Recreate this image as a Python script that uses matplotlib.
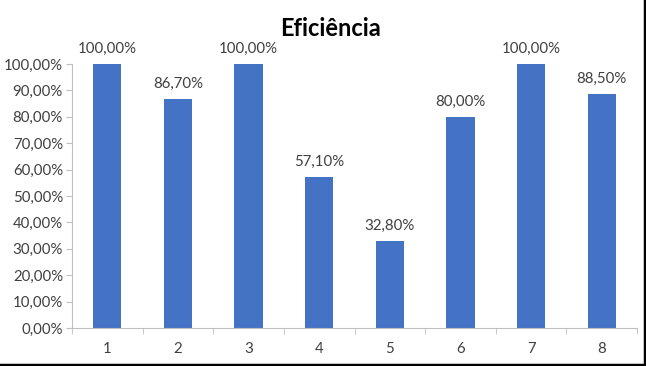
import matplotlib.pyplot as plt
from matplotlib.ticker import FuncFormatter, FixedLocator
import numpy as np

categories = ['1', '2', '3', '4', '5', '6', '7', '8']
efficiency = [1.000, 0.867, 1.000, 0.571, 0.328, 0.800, 1.000, 0.885]
labels = ['100,00%', '86,70%', '100,00%', '57,10%', '32,80%', '80,00%', '100,00%', '88,50%']

plt.rcParams['font.family'] = ['Lato', 'DejaVu Sans']

fig = plt.figure(figsize=(6.46, 3.66), dpi=100)
ax = fig.add_axes([72 / 646, 38 / 366, 565 / 646, 264 / 366])

x = np.arange(len(categories))
bars = ax.bar(x, efficiency, width=0.4, color='#4472C4', zorder=2)

for b, lab in zip(bars, labels):
    ax.annotate(lab, (b.get_x() + b.get_width() / 2, b.get_height()),
                xytext=(0, 6), textcoords='offset points', ha='center', va='bottom',
                fontsize=10.8, color='#404040')

ax.set_xlim(-0.5, len(categories) - 0.5)
ax.set_ylim(0, 1.0)
ax.set_yticks(np.arange(0, 1.01, 0.1))
ax.yaxis.set_major_formatter(FuncFormatter(lambda v, p: ('%.2f%%' % (v * 100)).replace('.', ',')))
ax.set_xticks(x)
ax.set_xticklabels(categories)
ax.xaxis.set_minor_locator(FixedLocator(np.arange(-0.5, len(categories), 1.0)))

for s in ['top', 'right']:
    ax.spines[s].set_visible(False)
for s in ['left', 'bottom']:
    ax.spines[s].set_color('#BFBFBF')
ax.tick_params(axis='y', length=4, pad=2.5, color='#BFBFBF', labelcolor='#404040', labelsize=10.8)
ax.tick_params(axis='x', which='major', length=0, pad=10, labelcolor='#404040', labelsize=10.8)
ax.tick_params(axis='x', which='minor', length=4, color='#BFBFBF')

fig.text(330 / 646, 1 - 28 / 366, 'Eficiência', ha='center', va='center',
         fontsize=17, fontweight='bold', color='black')

# borda preta à direita e embaixo
fig.add_artist(plt.Line2D([644.5 / 646, 644.5 / 646], [0, 1], color='black', lw=2.5, transform=fig.transFigure))
fig.add_artist(plt.Line2D([0, 1], [1.5 / 366, 1.5 / 366], color='black', lw=2.5, transform=fig.transFigure))

fig.savefig('out.png', dpi=100)
